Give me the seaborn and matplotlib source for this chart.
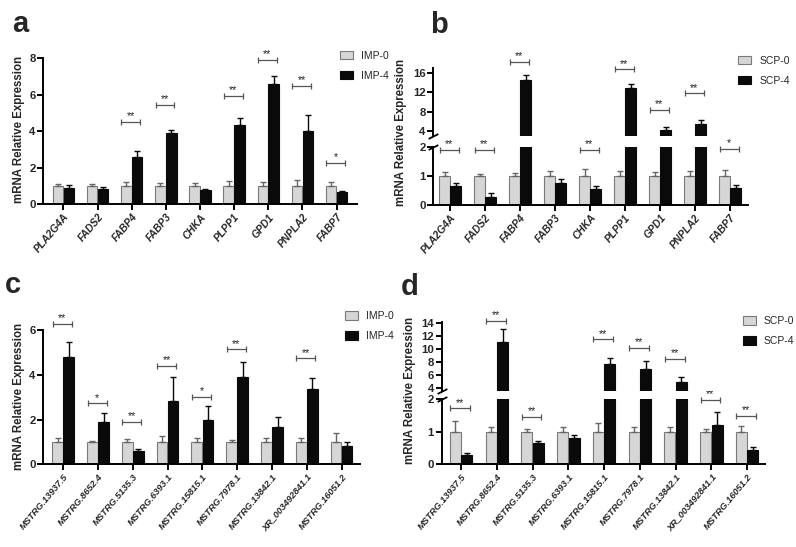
import numpy as np
import pandas as pd
import matplotlib
matplotlib.use("Agg")
import matplotlib.pyplot as plt
import seaborn as sns
from matplotlib.patches import Patch

sns.set_style("ticks")
plt.rcParams["font.family"] = ["Liberation Sans", "DejaVu Sans"]

# ---------------- data ----------------
genes = ["PLA2G4A", "FADS2", "FABP4", "FABP3", "CHKA", "PLPP1", "GPD1", "PNPLA2", "FABP7"]
lncs = ["MSTRG.13937.5", "MSTRG.8652.4", "MSTRG.5135.3", "MSTRG.6393.1", "MSTRG.15815.1",
        "MSTRG.7978.1", "MSTRG.13842.1", "XR_003492841.1", "MSTRG.16051.2"]

imp_groups = ["IMP-0", "IMP-4"]
scp_groups = ["SCP-0", "SCP-4"]

# panel a
a_ctrl = [1.0, 1.0, 1.0, 1.0, 1.0, 1.0, 1.0, 1.0, 1.0]
a_ctrl_err = [0.11, 0.10, 0.24, 0.19, 0.15, 0.30, 0.24, 0.33, 0.20]
a_trt = [0.91, 0.84, 2.58, 3.89, 0.77, 4.35, 6.58, 4.02, 0.69]
a_trt_err = [0.15, 0.13, 0.34, 0.20, 0.05, 0.36, 0.45, 0.87, 0.06]
a_sig = ["", "", "**", "**", "", "**", "**", "**", "*"]
a_sig_y = [np.nan, np.nan, 4.53, 5.44, np.nan, 5.94, 7.9, 6.5, 2.28]

# panel b
b_ctrl = [1.0, 1.0, 1.0, 1.0, 1.0, 1.0, 1.0, 1.0, 1.0]
b_ctrl_err = [0.12, 0.07, 0.11, 0.18, 0.23, 0.18, 0.12, 0.18, 0.20]
b_trt = [0.66, 0.29, 14.6, 0.77, 0.54, 12.98, 4.2, 5.44, 0.6]
b_trt_err = [0.08, 0.13, 0.9, 0.11, 0.12, 0.82, 0.55, 0.82, 0.09]
b_sig = ["**", "**", "**", "", "**", "**", "**", "**", "*"]
b_sig_y = [1.9, 1.9, 18.2, np.nan, 1.9, 16.7, 8.3, 11.75, 1.92]

# panel c
c_ctrl = [1.0, 1.0, 1.0, 1.0, 1.0, 1.0, 1.0, 1.0, 1.0]
c_ctrl_err = [0.16, 0.06, 0.13, 0.28, 0.16, 0.07, 0.16, 0.16, 0.40]
c_trt = [4.78, 1.89, 0.6, 2.84, 1.99, 3.91, 1.68, 3.36, 0.8]
c_trt_err = [0.67, 0.39, 0.07, 1.07, 0.61, 0.64, 0.45, 0.48, 0.21]
c_sig = ["**", "*", "**", "**", "*", "**", "", "**", ""]
c_sig_y = [6.26, 2.72, 1.88, 4.39, 3.02, 5.13, np.nan, 4.73, np.nan]

# panel d
d_ctrl = [1.0, 1.0, 1.0, 1.0, 1.0, 1.0, 1.0, 1.0, 1.0]
d_ctrl_err = [0.34, 0.16, 0.10, 0.16, 0.28, 0.14, 0.16, 0.10, 0.18]
d_trt = [0.3, 11.18, 0.65, 0.8, 7.7, 7.0, 4.9, 1.21, 0.44]
d_trt_err = [0.04, 1.92, 0.07, 0.10, 0.9, 1.26, 0.9, 0.39, 0.10]
d_sig = ["**", "**", "**", "", "**", "**", "**", "**", "**"]
d_sig_y = [1.72, 14.4, 1.45, np.nan, 11.5, 10.15, 8.46, 1.98, 1.49]

# ---------------- style ----------------
GRAY = "#d6d6d6"
GRAY_EDGE = "#7a7a7a"
BLACK = "#0a0a0a"
SIG_COL = "#555555"


def make_df(cats, groups, ctrl, trt):
    return pd.DataFrame({
        "gene": list(cats) * 2,
        "group": [groups[0]] * len(cats) + [groups[1]] * len(cats),
        "value": list(ctrl) + list(trt),
    })


def draw_bars(ax, cats, groups, ctrl, ctrl_err, trt, trt_err):
    df = make_df(cats, groups, ctrl, trt)
    sns.barplot(data=df, x="gene", y="value", hue="group", order=cats, hue_order=groups,
                palette={groups[0]: GRAY, groups[1]: BLACK}, errorbar=None,
                width=0.64, gap=0.04, ax=ax, legend=False, saturation=1)
    errs = [ctrl_err, trt_err]
    vals = [ctrl, trt]
    bar_containers = list(ax.containers)[:2]
    for k, cont in enumerate(bar_containers):
        xs = []
        for bar in cont:
            bar.set_edgecolor(GRAY_EDGE if k == 0 else BLACK)
            bar.set_linewidth(0.8)
            xs.append(bar.get_x() + bar.get_width() / 2)
        e = np.array(errs[k])
        ax.errorbar(xs, vals[k], yerr=[np.zeros_like(e), e], fmt="none",
                    ecolor="#666666" if k == 0 else BLACK, elinewidth=1.0,
                    capsize=2.2, capthick=1.0, zorder=1)
    ax.set_xlabel("")
    ax.set_ylabel("")


def style_axis(ax, lw=1.4):
    for s in ["top", "right"]:
        ax.spines[s].set_visible(False)
    for s in ["left", "bottom"]:
        ax.spines[s].set_linewidth(lw)
        ax.spines[s].set_color("black")
    ax.tick_params(axis="both", width=lw, length=4, color="black", pad=1.5)
    for t in ax.get_yticklabels():
        t.set_fontweight("bold")
        t.set_fontsize(8.2)


def xlabels(ax, cats, size):
    ax.set_xticks(range(len(cats)))
    ax.set_xticklabels(cats, rotation=50, ha="right", rotation_mode="anchor",
                       fontsize=size, fontweight="bold", fontstyle="italic")


def draw_sig(ax_for_y, cats, sig, sig_y):
    for i, (s, y) in enumerate(zip(sig, sig_y)):
        if not s:
            continue
        ax = ax_for_y(y)
        x0, x1 = i - 0.3, i + 0.25
        ax.plot([x0, x1], [y, y], color=SIG_COL, lw=0.9, marker="|", markersize=4,
                markeredgewidth=0.9, clip_on=False, zorder=5)
        ax.annotate(s, ((x0 + x1) / 2, y), xytext=(0, 0.5), textcoords="offset points",
                    ha="center", va="bottom", fontsize=7.8, color="#222222",
                    annotation_clip=False)


def add_legend(groups, x, y):
    handles = [Patch(facecolor=GRAY, edgecolor=GRAY_EDGE, lw=0.8),
               Patch(facecolor=BLACK, edgecolor=BLACK, lw=0.8)]
    fig.legend(handles, groups, loc="upper left", bbox_to_anchor=(x, y),
               bbox_transform=fig.transFigure, frameon=False, fontsize=7.5,
               handlelength=1.25, handleheight=0.85, labelspacing=0.95,
               handletextpad=0.8, borderaxespad=0, borderpad=0)


def break_marks(ax_hi, ax_lo):
    kw = dict(marker=[(-1, -0.5), (1, 0.5)], markersize=7, linestyle="none",
              color="k", mec="k", mew=1.3, clip_on=False)
    ax_hi.plot([0], [0], transform=ax_hi.transAxes, **kw)
    ax_lo.plot([0], [1], transform=ax_lo.transAxes, **kw)


fig = plt.figure(figsize=(7.96, 5.47), dpi=100)

# ---------- panel a ----------
ax_a = fig.add_axes([0.0544, 0.6265, 0.3937, 0.2669])
draw_bars(ax_a, genes, imp_groups, a_ctrl, a_ctrl_err, a_trt, a_trt_err)
ax_a.set_xlim(-0.59, 8.59)
ax_a.set_ylim(0, 8)
ax_a.set_yticks([0, 2, 4, 6, 8])
style_axis(ax_a)
xlabels(ax_a, genes, 7.4)
draw_sig(lambda y: ax_a, genes, a_sig, a_sig_y)
add_legend(imp_groups, 0.427, 0.907)

# ---------- panel c ----------
ax_c = fig.add_axes([0.0544, 0.1512, 0.3979, 0.2455])
draw_bars(ax_c, lncs, imp_groups, c_ctrl, c_ctrl_err, c_trt, c_trt_err)
ax_c.set_xlim(-0.57, 8.53)
ax_c.set_ylim(0, 6)
ax_c.set_yticks([0, 2, 4, 6])
style_axis(ax_c)
xlabels(ax_c, lncs, 6.7)
draw_sig(lambda y: ax_c, lncs, c_sig, c_sig_y)
add_legend(imp_groups, 0.433, 0.431)

# ---------- panel b (broken axis) ----------
ax_b_lo = fig.add_axes([0.5444, 0.6252, 0.3953, 0.1066])
ax_b_hi = fig.add_axes([0.5444, 0.7514, 0.3953, 0.1243])
for ax in (ax_b_lo, ax_b_hi):
    draw_bars(ax, genes, scp_groups, b_ctrl, b_ctrl_err, b_trt, b_trt_err)
    ax.set_xlim(-0.48, 8.51)
ax_b_lo.set_ylim(0, 2)
ax_b_lo.set_yticks([0, 1, 2])
ax_b_hi.set_ylim(3, 17)
ax_b_hi.set_yticks([4, 8, 12, 16])
style_axis(ax_b_lo)
style_axis(ax_b_hi)
ax_b_hi.spines["bottom"].set_visible(False)
ax_b_hi.tick_params(axis="x", bottom=False, labelbottom=False)
xlabels(ax_b_lo, genes, 7.4)
break_marks(ax_b_hi, ax_b_lo)
draw_sig(lambda y: ax_b_lo if y <= 2.05 else ax_b_hi, genes, b_sig, b_sig_y)
add_legend(scp_groups, 0.927, 0.898)

# ---------- panel d (broken axis) ----------
ax_d_lo = fig.add_axes([0.5549, 0.1512, 0.4062, 0.1188])
ax_d_hi = fig.add_axes([0.5549, 0.2843, 0.4062, 0.1278])
for ax in (ax_d_lo, ax_d_hi):
    draw_bars(ax, lncs, scp_groups, d_ctrl, d_ctrl_err, d_trt, d_trt_err)
    ax.set_xlim(-0.54, 8.5)
ax_d_lo.set_ylim(0, 2)
ax_d_lo.set_yticks([0, 1, 2])
ax_d_hi.set_ylim(3.5, 14.25)
ax_d_hi.set_yticks([4, 6, 8, 10, 12, 14])
style_axis(ax_d_lo)
style_axis(ax_d_hi)
ax_d_hi.spines["bottom"].set_visible(False)
ax_d_hi.tick_params(axis="x", bottom=False, labelbottom=False)
xlabels(ax_d_lo, lncs, 6.7)
break_marks(ax_d_hi, ax_d_lo)
draw_sig(lambda y: ax_d_lo if y <= 2.05 else ax_d_hi, lncs, d_sig, d_sig_y)
add_legend(scp_groups, 0.933, 0.422)

# ---------- y labels and panel letters ----------
ylab = "mRNA Relative Expression"
for (x, y) in [(0.024, 0.764), (0.504, 0.758), (0.024, 0.276), (0.515, 0.287)]:
    fig.text(x, y, ylab, rotation=90, ha="center", va="center",
             fontsize=8.3, fontweight="bold")

for (x, y, s) in [(0.015, 0.9415, "a"), (0.540, 0.94, "b"), (0.006, 0.464, "c"), (0.503, 0.461, "d")]:
    fig.text(x, y, s, fontsize=21, fontweight="bold", va="baseline", ha="left")

fig.savefig("out.png", dpi=100)
